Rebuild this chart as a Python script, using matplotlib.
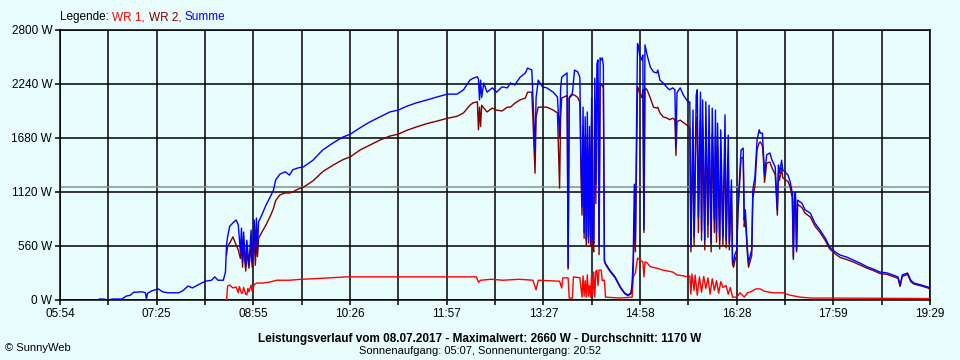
import matplotlib
matplotlib.use('Agg')
from matplotlib import pyplot as plt
import numpy as np

# Summe und WR 2 (gleiche Zeitpunkte), WR 2 fehlt am Morgen
zeit = [
    "06:31", "06:35", "06:39", "06:43", "06:52", "06:56", "07:00", "07:03", "07:11", "07:14",
    "07:15", "07:16", "07:20", "07:26", "07:30", "07:35", "07:45", "07:49", "07:54", "07:58",
    "08:03", "08:10", "08:16", "08:19", "08:22", "08:27", "08:29",
    "08:30", "08:31", "08:33", "08:36", "08:39", "08:41", "08:43", "08:44", "08:45", "08:46",
    "08:48", "08:49", "08:51", "08:53", "08:54", "08:56", "08:57", "08:58", "08:59", "09:00",
    "09:03", "09:07", "09:11", "09:14", "09:16", "09:20", "09:25", "09:29", "09:32", "09:37",
    "09:42", "09:51", "10:00", "10:10", "10:19", "10:26", "10:35", "10:44", "10:54", "11:03",
    "11:11", "11:19", "11:28", "11:38", "11:47", "11:57", "12:06", "12:12", "12:18", "12:21",
    "12:25",
    "12:26", "12:27", "12:28", "12:29", "12:31", "12:34", "12:39", "12:43", "12:48", "12:53",
    "12:56", "13:00", "13:05", "13:10", "13:12", "13:16", "13:19", "13:20", "13:22", "13:26",
    "13:30", "13:36", "13:40", "13:42", "13:43", "13:44", "13:49", "13:50",
    "13:51", "13:54", "13:56", "13:59", "14:01", "14:02", "14:03", "14:04", "14:05", "14:06",
    "14:07", "14:08", "14:09", "14:10", "14:11", "14:12", "14:13", "14:14", "14:15", "14:16",
    "14:17", "14:18", "14:19", "14:20", "14:21", "14:22", "14:23", "14:24",
    "14:25", "14:29", "14:34", "14:39", "14:43", "14:46", "14:49", "14:50", "14:51", "14:52",
    "14:53", "14:54", "14:55", "14:56", "14:57", "14:59", "15:00", "15:01", "15:02", "15:04",
    "15:07", "15:10", "15:13", "15:14", "15:16", "15:19", "15:23", "15:25", "15:28", "15:30",
    "15:31", "15:32", "15:35", "15:38", "15:41", "15:43",
    "15:44", "15:45", "15:47", "15:48", "15:50", "15:51", "15:52", "15:54", "15:55", "15:56",
    "15:58", "15:59", "16:01", "16:02", "16:04", "16:05", "16:07", "16:08", "16:09", "16:10",
    "16:12", "16:13", "16:15", "16:17", "16:18", "16:20", "16:21", "16:23", "16:24", "16:25",
    "16:26", "16:28", "16:29", "16:32", "16:34", "16:35", "16:36", "16:38", "16:39", "16:40",
    "16:42", "16:43", "16:45", "16:47", "16:49",
    "16:50", "16:52", "16:53", "16:54", "16:56", "16:59", "17:01", "17:04", "17:06", "17:07",
    "17:08", "17:10", "17:11", "17:13", "17:16", "17:18", "17:20", "17:21", "17:22", "17:23",
    "17:24", "17:25", "17:29", "17:32", "17:37", "17:41", "17:46", "17:51", "17:55", "18:00",
    "18:05", "18:11", "18:17", "18:23", "18:30", "18:36", "18:42", "18:49", "18:54", "18:59",
    "19:01", "19:03", "19:08", "19:11", "19:14", "19:21", "19:27", "19:29",
]
summe = [
    10, 10, 0, 10, 10, 40, 50, 80, 85, 75,
    10, 70, 95, 115, 85, 75, 75, 95, 145, 125,
    155, 195, 205, 240, 205, 205, 290,
    570, 655, 765, 800, 830, 780, 500, 745, 395, 705,
    340, 620, 365, 725, 395, 830, 465, 850, 520, 810,
    880, 985, 1070, 1140, 1245, 1305, 1330, 1295, 1350, 1370,
    1380, 1450, 1555, 1630, 1690, 1720, 1785, 1845, 1900, 1950,
    1970, 2010, 2045, 2075, 2105, 2135, 2135, 2180, 2280, 2300,
    2315,
    2290, 2075, 2280, 2100, 2250, 2155, 2200, 2155, 2210, 2200,
    2250, 2230, 2310, 2355, 2405, 2385, 1555, 2100, 2280, 2210,
    2200, 2155, 2105, 1690, 2200, 2310, 2355, 340,
    2100, 2145, 2385, 2365, 2310, 1500, 965, 2000, 700, 1900,
    620, 1950, 650, 1800, 600, 2100, 640, 590, 2300, 1200,
    2450, 2490, 550, 2510, 2490, 2510, 2435, 415,
    380, 310, 240, 135, 73, 52, 75, 180, 445, 1200,
    600, 1700, 2660, 2625, 2540, 2490, 2540, 730, 2645, 2540,
    2415, 2365, 2355, 2385, 2280, 2250, 2200, 2180, 2200, 2180,
    1600, 2150, 2200, 2125, 2075, 2050,
    2055, 550, 1970, 655, 2125, 2180, 860, 2155, 715, 2075,
    620, 2055, 780, 2020, 590, 1990, 830, 1970, 705, 1835,
    620, 1765, 655, 1920, 620, 1710, 590, 1245, 415, 385,
    465, 520, 935, 1555, 1575, 830, 935, 520, 385, 435,
    520, 1140, 1275, 1660, 1765,
    1730, 1730, 1525, 1300, 1505, 1525, 1450, 1380, 935, 1400,
    1315, 1450, 1350, 1330, 1295, 1225, 1110, 445, 1110, 1110,
    520, 1035, 1005, 935, 900, 800, 725, 640, 550, 500,
    465, 445, 415, 385, 345, 320, 290, 280, 260, 240,
    155, 260, 280, 205, 175, 155, 135, 120,
]
wr2 = [
    None, None, None, None, None, None, None, None, None, None,
    None, None, None, None, None, None, None, None, None, None,
    None, None, None, None, None, None, None,
    470, 560, 590, 655, 570, 520, 430, 600, 340, 560,
    300, 500, 330, 560, 340, 640, 360, 620, 450, 640,
    700, 780, 870, 950, 1030, 1090, 1110, 1110, 1120, 1150,
    1170, 1235, 1330, 1400, 1455, 1485, 1555, 1605, 1660, 1700,
    1720, 1760, 1795, 1830, 1855, 1885, 1905, 1940, 2020, 2045,
    2055,
    1765, 2000, 1800, 2020, 1990, 1950, 1990, 1970, 1960, 2000,
    2000, 2040, 2075, 2095, 2155, 2155, 1315, 1900, 2000, 2000,
    2000, 1970, 1940, 1160, 1900, 2095, 2120, 320,
    2090, 2130, 2125, 2100, 2050, 1350, 880, 1800, 640, 1700,
    560, 1720, 590, 1600, 560, 1900, 560, 500, 2080, 1000,
    2200, 2250, 470, 2240, 2230, 2220, 2200, 400,
    370, 300, 230, 125, 65, 45, 65, 150, 300, 900,
    500, 1400, 2210, 2180, 2145, 2100, 2180, 700, 2200, 2180,
    2095, 2000, 1990, 2000, 1940, 1900, 1885, 1870, 1885, 1870,
    1500, 1850, 1865, 1840, 1815, 1800,
    1780, 500, 1700, 560, 1850, 1900, 700, 1870, 620, 1800,
    520, 1780, 650, 1750, 500, 1720, 700, 1700, 600, 1600,
    530, 1550, 560, 1700, 540, 1520, 520, 1150, 370, 340,
    400, 470, 880, 1470, 1480, 760, 850, 470, 340, 380,
    460, 1050, 1180, 1560, 1630,
    1640, 1600, 1450, 1220, 1420, 1430, 1370, 1300, 880, 1310,
    1240, 1370, 1270, 1250, 1230, 1170, 1060, 420, 1060, 1060,
    500, 990, 960, 900, 860, 770, 700, 615, 530, 480,
    440, 420, 395, 365, 330, 305, 275, 265, 245, 225,
    140, 245, 265, 190, 165, 145, 125, 110,
]

zeit_wr1 = [
    "08:30", "08:31", "08:33", "08:36", "08:39", "08:41", "08:42", "08:44", "08:45", "08:46",
    "08:48", "08:49", "08:50", "08:51", "08:53", "08:54", "08:56", "08:58", "09:03", "09:10",
    "09:17", "09:29", "09:40", "09:51", "10:23", "10:54", "11:31", "12:00", "12:16", "12:24",
    "12:26", "12:28", "12:38", "12:49", "13:04", "13:17", "13:20", "13:22", "13:42", "13:44",
    "13:45", "13:50", "13:51", "13:54", "13:55", "14:01", "14:03", "14:04", "14:05", "14:06",
    "14:07", "14:08", "14:09", "14:10", "14:11", "14:12", "14:13", "14:14", "14:15", "14:16",
    "14:17", "14:18", "14:19", "14:20", "14:21", "14:22", "14:23", "14:24", "14:25", "14:39",
    "14:50", "14:51", "14:53", "14:55", "14:57", "15:00", "15:01", "15:02", "15:04", "15:07",
    "15:13", "15:19", "15:28", "15:32", "15:38", "15:42", "15:44", "15:45", "15:46", "15:48",
    "15:49", "15:51", "15:53", "15:55", "15:57", "15:59", "16:01", "16:03", "16:05", "16:07",
    "16:09", "16:11", "16:13", "16:15", "16:18", "16:20", "16:22", "16:24", "16:28", "16:31",
    "16:35", "16:38", "16:41", "16:46", "16:50", "16:54", "17:02", "17:11", "17:18", "17:27",
    "17:38", "18:00", "19:29",
]
wr1 = [
    0, 145, 155, 125, 135, 75, 140, 70, 75, 130,
    60, 52, 120, 85, 155, 90, 160, 175, 175, 185,
    205, 205, 215, 220, 240, 240, 240, 240, 240, 240,
    185, 205, 215, 205, 215, 205, 105, 205, 195, 125,
    230, 230, 20, 20, 240, 230, 30, 250, 40, 200,
    30, 260, 40, 150, 30, 280, 50, 290, 30, 300,
    310, 150, 310, 310, 310, 200, 205, 205, 30, 20,
    30, 240, 280, 435, 415, 395, 240, 395, 385, 345,
    330, 310, 290, 260, 250, 240, 250, 60, 270, 100,
    260, 50, 240, 80, 245, 120, 230, 60, 220, 100,
    200, 70, 190, 130, 150, 60, 130, 30, 30, 75,
    30, 75, 85, 115, 115, 90, 75, 75, 50, 30,
    20, 20, 15,
]

x_labels = ["05:54", "07:25", "08:55", "10:26", "11:57", "13:27", "14:58", "16:28", "17:59", "19:29"]
y_ticks = [0, 560, 1120, 1680, 2240, 2800]
durchschnitt = 1170
maximalwert = 2660
datum = "08.07.2017"
sonnenaufgang = "05:07"
sonnenuntergang = "20:52"


def to_min(s):
    h, m = s.split(':')
    return int(h) * 60 + int(m)


bg = '#e8fcfc'
plt.rcParams['font.family'] = ['Liberation Sans', 'DejaVu Sans']

fig = plt.figure(figsize=(9.6, 3.6), dpi=100, facecolor=bg)
ax = fig.add_axes([60 / 960, 60 / 360, 870 / 960, 270 / 360])
ax.set_facecolor(bg)

t0 = to_min(x_labels[0])
t1 = to_min(x_labels[-1])
ax.set_xlim(t0, t1)
ax.set_ylim(0, 2800)

xt = np.linspace(t0, t1, 19)
ax.set_xticks(xt)
ax.set_xticklabels([x_labels[i // 2] if i % 2 == 0 else '' for i in range(19)])
ax.set_yticks(y_ticks)
ax.set_yticklabels(['{} W'.format(v) for v in y_ticks])
ax.tick_params(length=3.6, width=1.1, color='black', labelsize=8.5, pad=2)
ax.grid(True, color='black', lw=1.1)
ax.set_axisbelow(True)
for s in ax.spines.values():
    s.set_linewidth(1.1)

ax.axhline(durchschnitt, color='#8c8c8c', lw=1.1, zorder=1.5)

tm = [to_min(s) for s in zeit]
tw = [to_min(s) for s in zeit_wr1]
ax.plot(tw, wr1, color='#ff0000', lw=1.0, zorder=3)
ax.plot(tm, np.array(wr2, dtype=float), color='#800000', lw=1.0, zorder=3)
ax.plot(tm, summe, color='#0000ff', lw=1.0, zorder=4)

# Legende oben links
t = fig.text(60 / 960, 1 - 17 / 360, 'Legende:', fontsize=8.5, va='center')
for txt, col in [('WR 1,', '#ff0000'), ('WR 2,', '#800000'), ('Summe', '#0000ff')]:
    t = ax.annotate(txt, xy=(1, 0), xycoords=t, xytext=(2.5, 0), textcoords='offset points',
                    va='bottom', color=col, fontsize=8.5, annotation_clip=False)

fig.text(480 / 960, 1 - 339 / 360,
         'Leistungsverlauf vom {} - Maximalwert: {} W - Durchschnitt: {} W'.format(
             datum, maximalwert, durchschnitt),
         ha='center', va='center', fontsize=8.5, fontweight='bold')
fig.text(480 / 960, 1 - 351 / 360,
         'Sonnenaufgang: {}, Sonnenuntergang: {}'.format(sonnenaufgang, sonnenuntergang),
         ha='center', va='center', fontsize=8)
fig.text(5 / 960, 1 - 348 / 360, '\u00a9 SunnyWeb', ha='left', va='center', fontsize=8)

fig.savefig('out.png', dpi=100, facecolor=bg)
